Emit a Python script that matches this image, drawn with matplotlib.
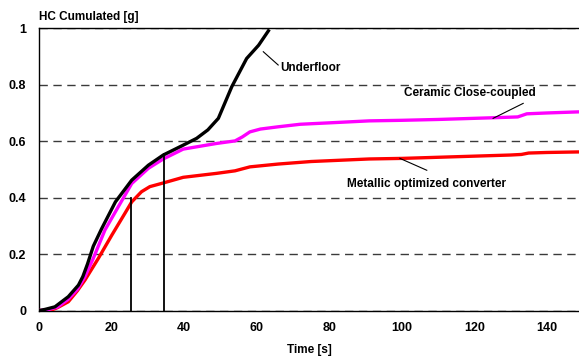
import matplotlib
matplotlib.use("Agg")
import matplotlib.pyplot as plt

plt.rcParams['font.family'] = ['Liberation Sans', 'DejaVu Sans']
plt.rcParams['font.weight'] = 'bold'

# Cumulated HC emissions over time for three converter layouts
underfloor_t = [0, 1.6, 4.3, 8, 10.8, 12, 13.3, 14.9, 17.2, 21, 25.5, 30.1, 34.2, 39.7,
                43.4, 46.5, 49.4, 53.1, 57.2, 60.5, 63.2]
underfloor_v = [0, 0.004, 0.013, 0.049, 0.09, 0.12, 0.165, 0.228, 0.29, 0.385, 0.462,
                0.515, 0.551, 0.586, 0.61, 0.64, 0.681, 0.793, 0.893, 0.94, 0.991]

ceramic_t = [0, 2, 5, 8, 10.5, 12.6, 14.9, 18.1, 21.8, 25.5, 30.1, 34.2, 39.7, 48.9,
             54, 56, 58.1, 61, 65.9, 72, 80, 91, 100, 110, 120, 125, 132, 134.5, 140, 149]
ceramic_v = [0, 0.002, 0.012, 0.04, 0.075, 0.12, 0.185, 0.285, 0.368, 0.45, 0.504,
             0.537, 0.572, 0.592, 0.601, 0.615, 0.633, 0.643, 0.651, 0.66, 0.665, 0.672,
             0.674, 0.677, 0.681, 0.683, 0.686, 0.697, 0.700, 0.704]

metallic_t = [0, 3, 5, 8, 10.5, 12.6, 16.3, 20, 23.6, 25.5, 28.2, 30.5, 34.2, 39.7,
              48.9, 54, 58.1, 65.9, 75, 91, 100, 110, 120, 130, 133, 135, 140, 149]
metallic_v = [0, 0, 0.01, 0.031, 0.07, 0.108, 0.185, 0.267, 0.344, 0.385, 0.421, 0.439,
              0.452, 0.472, 0.486, 0.495, 0.509, 0.519, 0.528, 0.537, 0.539, 0.543,
              0.547, 0.551, 0.553, 0.558, 0.56, 0.562]

# Light-off markers (time, cumulated HC reached)
marker_t = [25.2, 34.5]
marker_v = [0.397, 0.553]

x_ticks = [0, 20, 40, 60, 80, 100, 120, 140]
y_ticks = [0, 0.2, 0.4, 0.6, 0.8, 1]
y_tick_labels = ['0', '0.2', '0.4', '0.6', '0.8', '1']

fig = plt.figure(figsize=(5.79, 3.63), dpi=100)
ax = fig.add_axes([0.0679, 0.1446, 0.9321, 0.7774])

for yv in y_ticks:
    ax.axhline(yv, color='#3a3a3a', lw=1.0, dashes=(6, 4), zorder=1)

ax.plot(metallic_t, metallic_v, color='#FF0000', lw=2.4, solid_joinstyle='round', zorder=3)
ax.plot(ceramic_t, ceramic_v, color='#FF00FF', lw=2.4, solid_joinstyle='round', zorder=4)
ax.plot(underfloor_t, underfloor_v, color='black', lw=2.4, solid_joinstyle='round', zorder=5)

for mt, mv in zip(marker_t, marker_v):
    ax.plot([mt, mt], [0, mv], color='black', lw=1.3, zorder=6)

ax.set_xlim(0, 148.9)
ax.set_ylim(0, 1)
ax.set_xticks(x_ticks)
ax.set_yticks(y_ticks)
ax.set_yticklabels(y_tick_labels)
ax.tick_params(axis='both', length=0, labelsize=9)
ax.tick_params(axis='x', pad=8.5)
ax.tick_params(axis='y', pad=9.5)
for lab in ax.get_xticklabels() + ax.get_yticklabels():
    lab.set_fontweight('bold')

ax.spines['right'].set_visible(False)
for s in ['left', 'top', 'bottom']:
    ax.spines[s].set_linewidth(1.0)
    ax.spines[s].set_color('black')
ax.spines['bottom'].set_zorder(2)

ax.set_xlabel('Time [s]', fontsize=8.5, fontweight='bold', labelpad=7)
fig.text(0.0679, 0.953, 'HC Cumulated [g]', fontsize=8.5, fontweight='bold',
         ha='left', va='center')

# Curve labels with leader lines
label_kw = dict(fontsize=8.5, fontweight='bold', va='center')
leader_kw = dict(color='black', lw=0.8, zorder=6)

ax.plot([61.8, 65.9], [0.917, 0.870], **leader_kw)
ax.text(66.6, 0.861, 'Underfloor', ha='left', **label_kw)

ax.plot([133.5, 125.2], [0.734, 0.681], **leader_kw)
ax.text(118.7, 0.771, 'Ceramic Close-coupled', ha='center', **label_kw)

ax.plot([99.5, 106.9], [0.539, 0.497], **leader_kw)
ax.text(106.8, 0.448, 'Metallic optimized converter', ha='center', **label_kw)

fig.savefig('out.png', dpi=100)
